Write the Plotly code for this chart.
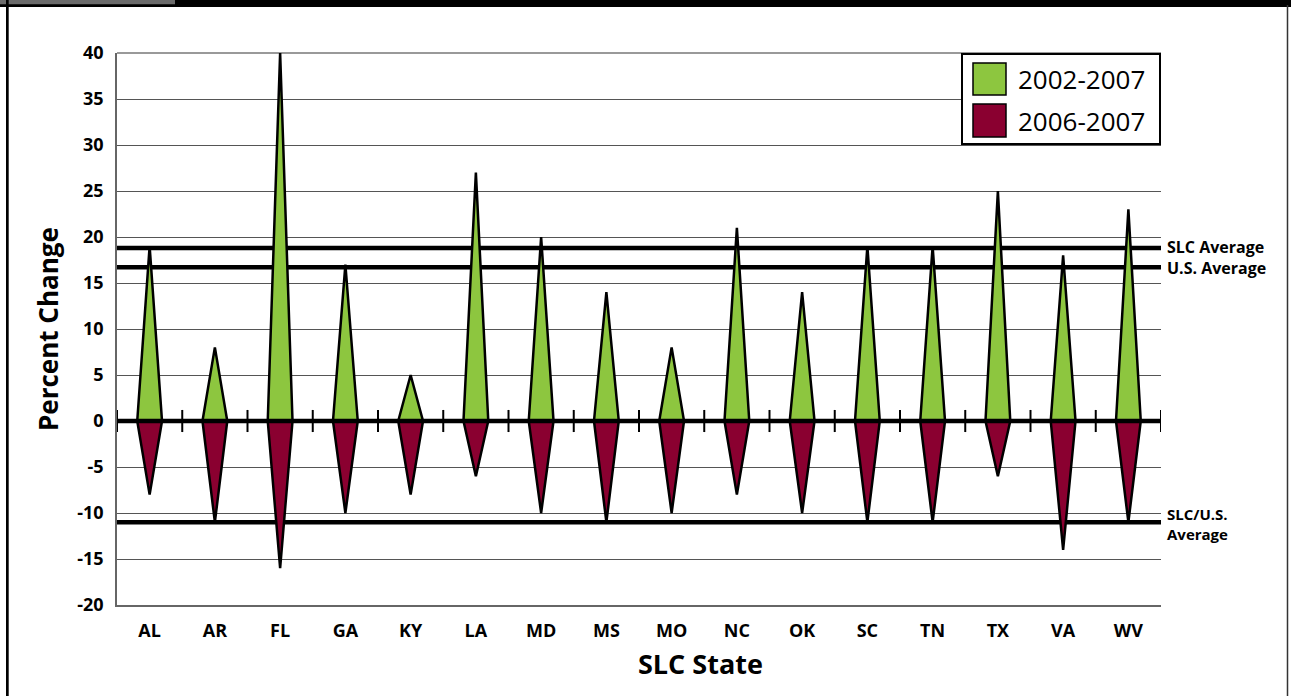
import plotly.graph_objects as go

states = ["AL", "AR", "FL", "GA", "KY", "LA", "MD", "MS", "MO", "NC", "OK", "SC", "TN", "TX", "VA", "WV"]
change_2002_2007 = [19, 8, 40, 17, 5, 27, 20, 14, 8, 21, 14, 19, 19, 25, 18, 23]
change_2006_2007 = [-8, -11, -16, -10, -8, -6, -10, -11, -10, -8, -10, -11, -11, -6, -14, -11]
slc_avg_2002_2007 = 18.8
us_avg_2002_2007 = 16.7
slc_us_avg_2006_2007 = -11.0
y_ticks = list(range(-20, 41, 5))

GREEN = "#8DC63F"
RED = "#8A0030"
W, H = 1291, 696
L, R, T, B = 117, 1161, 53, 605
HALF = 0.19  # diamond half-width in category units


def px_x(p):
    return (p - L) / (R - L)


def px_y(p):
    return (B - p) / (B - T)


def tri_xy(values):
    xs, ys = [], []
    for i, v in enumerate(values):
        xs += [i - HALF, i, i + HALF, i - HALF, None]
        ys += [0, v, 0, 0, None]
    return xs, ys


fig = go.Figure()
for vals, col, name in [(change_2002_2007, GREEN, "2002-2007"), (change_2006_2007, RED, "2006-2007")]:
    xs, ys = tri_xy(vals)
    fig.add_trace(go.Scatter(x=xs, y=ys, mode="lines", fill="toself", fillcolor=col,
                             line=dict(color="black", width=2.5), name=name,
                             showlegend=False, hoverinfo="skip"))

shapes = []
for yv in [slc_avg_2002_2007, us_avg_2002_2007, slc_us_avg_2006_2007]:
    shapes.append(dict(type="line", xref="paper", yref="y", x0=0, x1=1, y0=yv, y1=yv,
                       line=dict(color="black", width=4.5), layer="below"))
shapes.append(dict(type="line", xref="paper", yref="y", x0=0, x1=1, y0=0, y1=0,
                   line=dict(color="black", width=4.5), layer="above"))
for k in range(len(states) + 1):
    shapes.append(dict(type="line", xref="x", yref="y", x0=k - 0.5, x1=k - 0.5, y0=-1.2, y1=1.2,
                       line=dict(color="black", width=2), layer="above"))

# frame
shapes.append(dict(type="rect", xref="paper", yref="paper", x0=px_x(0), x1=px_x(W), y0=px_y(0), y1=px_y(7),
                   fillcolor="black", line=dict(width=0), layer="above"))
shapes.append(dict(type="rect", xref="paper", yref="paper", x0=px_x(0), x1=px_x(175), y0=px_y(0), y1=px_y(4.3),
                   fillcolor="#6b6b6b", line=dict(width=0), layer="above"))
shapes.append(dict(type="rect", xref="paper", yref="paper", x0=px_x(6), x1=px_x(8.7), y0=px_y(0), y1=px_y(H),
                   fillcolor="black", line=dict(width=0), layer="above"))
shapes.append(dict(type="line", xref="paper", yref="paper", x0=px_x(1287.5), x1=px_x(1287.5), y0=px_y(5), y1=px_y(H),
                   line=dict(color="#333333", width=1.5), layer="above"))

# legend
shapes.append(dict(type="rect", xref="paper", yref="paper", x0=px_x(962), x1=px_x(1160), y0=px_y(54), y1=px_y(144),
                   fillcolor="white", line=dict(color="black", width=2), layer="above"))
shapes.append(dict(type="rect", xref="paper", yref="paper", x0=px_x(973), x1=px_x(1006), y0=px_y(63), y1=px_y(95),
                   fillcolor=GREEN, line=dict(color="black", width=1.5), layer="above"))
shapes.append(dict(type="rect", xref="paper", yref="paper", x0=px_x(973), x1=px_x(1006), y0=px_y(104), y1=px_y(137),
                   fillcolor=RED, line=dict(color="black", width=1.5), layer="above"))

FONT = "Open Sans"
ann = []
ann.append(dict(text="2002-2007", xref="paper", yref="paper", x=px_x(1016), y=px_y(79), xanchor="left",
                yanchor="middle", showarrow=False, font=dict(family=FONT, size=26, color="black")))
ann.append(dict(text="2006-2007", xref="paper", yref="paper", x=px_x(1016), y=px_y(121), xanchor="left",
                yanchor="middle", showarrow=False, font=dict(family=FONT, size=26, color="black")))
side_font = dict(family=FONT, size=16, color="black")
ann.append(dict(text="<b>SLC Average</b>", xref="paper", yref="y", x=px_x(1165), y=slc_avg_2002_2007,
                xanchor="left", yanchor="middle", showarrow=False, font=side_font, yshift=1))
ann.append(dict(text="<b>U.S. Average</b>", xref="paper", yref="y", x=px_x(1165), y=us_avg_2002_2007,
                xanchor="left", yanchor="middle", showarrow=False, font=side_font, yshift=-1))
ann.append(dict(text="<b>SLC/U.S.<br>Average</b>", xref="paper", yref="y", x=px_x(1165), y=slc_us_avg_2006_2007,
                xanchor="left", yanchor="middle", showarrow=False, align="left",
                font=dict(family=FONT, size=15, color="black"), yshift=-2))
ann.append(dict(text="<b>SLC State</b>", xref="paper", yref="paper", x=px_x(700), y=px_y(663),
                xanchor="center", yanchor="middle", showarrow=False,
                font=dict(family=FONT, size=27, color="black")))
ann.append(dict(text="<b>Percent Change</b>", xref="paper", yref="paper", x=px_x(48), y=px_y(329),
                xanchor="center", yanchor="middle", showarrow=False, textangle=-90,
                font=dict(family=FONT, size=26, color="black")))

fig.update_layout(
    width=W, height=H,
    margin=dict(l=L, r=W - R, t=T, b=H - B),
    paper_bgcolor="white", plot_bgcolor="white",
    shapes=shapes, annotations=ann, showlegend=False,
    xaxis=dict(range=[-0.5, len(states) - 0.5], tickvals=list(range(len(states))),
               ticktext=[f"<b>{s}</b>" for s in states], showgrid=False, zeroline=False,
               showline=True, linecolor="#666666", linewidth=1.5,
               tickfont=dict(family=FONT, size=18, color="black"), ticks="", ticklabelstandoff=9),
    yaxis=dict(range=[-20, 40], tickvals=y_ticks, ticktext=[f"<b>{v}</b>" for v in y_ticks],
               showgrid=True, gridcolor="#555555", gridwidth=1, zeroline=False,
               showline=True, linecolor="#666666", linewidth=1.5, mirror=False,
               tickfont=dict(family=FONT, size=18, color="black"), ticks="", ticklabelstandoff=8),
)
fig.add_shape(type="line", xref="paper", yref="paper", x0=0, x1=1, y0=1, y1=1,
              line=dict(color="#777777", width=1.5), layer="below")

fig.write_html("out.html", config={"displayModeBar": False},
               post_script="document.body.style.margin='0';document.body.style.overflow='hidden';")
